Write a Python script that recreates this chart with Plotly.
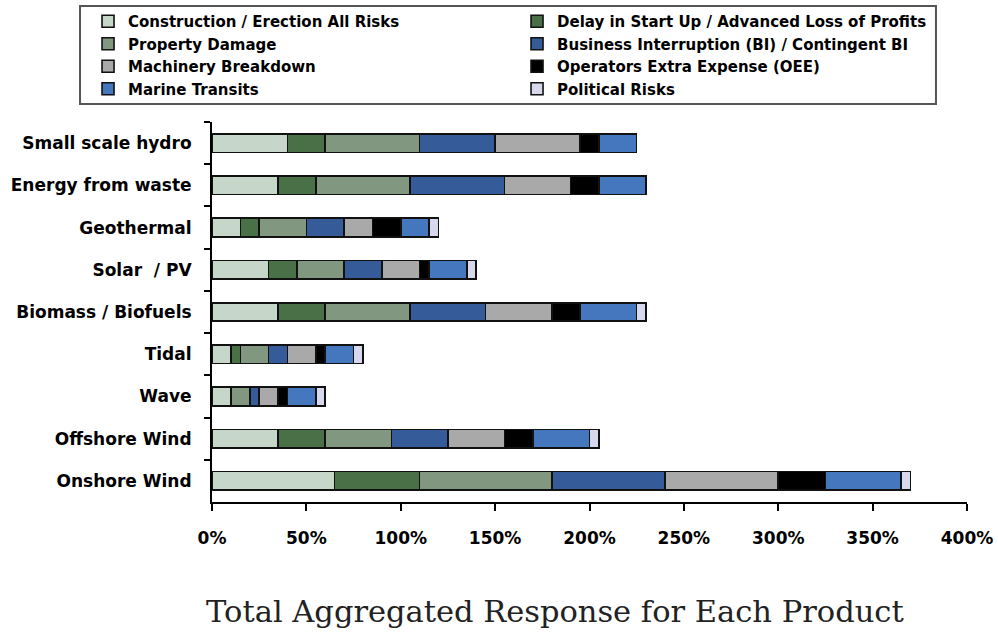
import plotly.graph_objects as go

# Product categories, listed top to bottom
products = [
    "Small scale hydro",
    "Energy from waste",
    "Geothermal",
    "Solar\u00a0 / PV",
    "Biomass / Biofuels",
    "Tidal",
    "Wave",
    "Offshore Wind",
    "Onshore Wind",
]

# Response share (%) per cover type, same order as products
construction = [40, 35, 15, 30, 35, 10, 10, 35, 65]
delay_start_up = [20, 20, 10, 15, 25, 5, 0, 25, 45]
property_damage = [50, 50, 25, 25, 45, 15, 10, 35, 70]
business_interruption = [40, 50, 20, 20, 40, 10, 5, 30, 60]
machinery_breakdown = [45, 35, 15, 20, 35, 15, 10, 30, 60]
operators_extra = [10, 15, 15, 5, 15, 5, 5, 15, 25]
marine_transits = [20, 25, 15, 20, 30, 15, 15, 30, 40]
political_risks = [0, 0, 5, 5, 5, 5, 5, 5, 5]

series_names = [
    "Construction / Erection All Risks",
    "Delay in Start Up / Advanced Loss of Profits",
    "Property Damage",
    "Business Interruption (BI) / Contingent BI",
    "Machinery Breakdown",
    "Operators Extra Expense (OEE)",
    "Marine Transits",
    "Political Risks",
]
series_values = [
    construction,
    delay_start_up,
    property_damage,
    business_interruption,
    machinery_breakdown,
    operators_extra,
    marine_transits,
    political_risks,
]
series_colors = [
    "#c6d7c9",
    "#4a7047",
    "#81977f",
    "#355c98",
    "#a9a9aa",
    "#000000",
    "#4477bd",
    "#d8d8ec",
]

x_ticks = [0, 50, 100, 150, 200, 250, 300, 350, 400]
x_tick_labels = ["0%", "50%", "100%", "150%", "200%", "250%", "300%", "350%", "400%"]

BOLD_FONT = "DejaVu Sans, Verdana, sans-serif"

fig = go.Figure()
for name, vals, col in zip(series_names, series_values, series_colors):
    fig.add_trace(go.Bar(
        y=products,
        x=vals,
        name=name,
        orientation="h",
        marker=dict(color=col, line=dict(color="#111111", width=1.6)),
    ))

# Frame around the legend
fig.add_shape(
    type="rect",
    xref="paper", yref="paper",
    x0=-0.1748, x1=0.9589, y0=1.0474, y1=1.3053,
    line=dict(color="#555555", width=2),
    fillcolor="rgba(0,0,0,0)",
    layer="above",
)

fig.update_layout(
    width=998,
    height=632,
    paper_bgcolor="white",
    plot_bgcolor="white",
    barmode="stack",
    bargap=0.56,
    margin=dict(l=212, r=31, t=122, b=130, autoexpand=False),
    font=dict(family=BOLD_FONT, color="#000000"),
    legend=dict(
        orientation="h",
        x=-0.1642,
        xanchor="left",
        y=1.308,
        yanchor="top",
        traceorder="normal",
        entrywidth=384,
        entrywidthmode="pixels",
        borderwidth=0,
        bgcolor="rgba(0,0,0,0)",
        font=dict(size=15, weight="bold", family=BOLD_FONT),
        itemwidth=30,
    ),
    title=dict(
        text="Total Aggregated Response for Each Product",
        x=0.556,
        xref="container",
        xanchor="center",
        y=0.032,
        yref="container",
        yanchor="middle",
        font=dict(family="DejaVu Serif, serif", size=30.5, color="#222222"),
    ),
)

fig.update_xaxes(
    range=[0, 400],
    tickvals=x_ticks,
    ticktext=x_tick_labels,
    showgrid=False,
    zeroline=False,
    showline=True,
    linecolor="#000000",
    linewidth=2,
    ticks="outside",
    ticklen=7,
    tickwidth=2,
    tickcolor="#000000",
    ticklabelstandoff=13,
    tickfont=dict(size=17, weight="bold"),
)

fig.update_yaxes(
    autorange="reversed",
    showgrid=False,
    showline=True,
    linecolor="#000000",
    linewidth=2,
    ticks="outside",
    tickson="boundaries",
    ticklen=6,
    tickwidth=2,
    tickcolor="#000000",
    ticklabelstandoff=15,
    tickfont=dict(size=17, weight="bold"),
)

fig.write_html("out.html")
